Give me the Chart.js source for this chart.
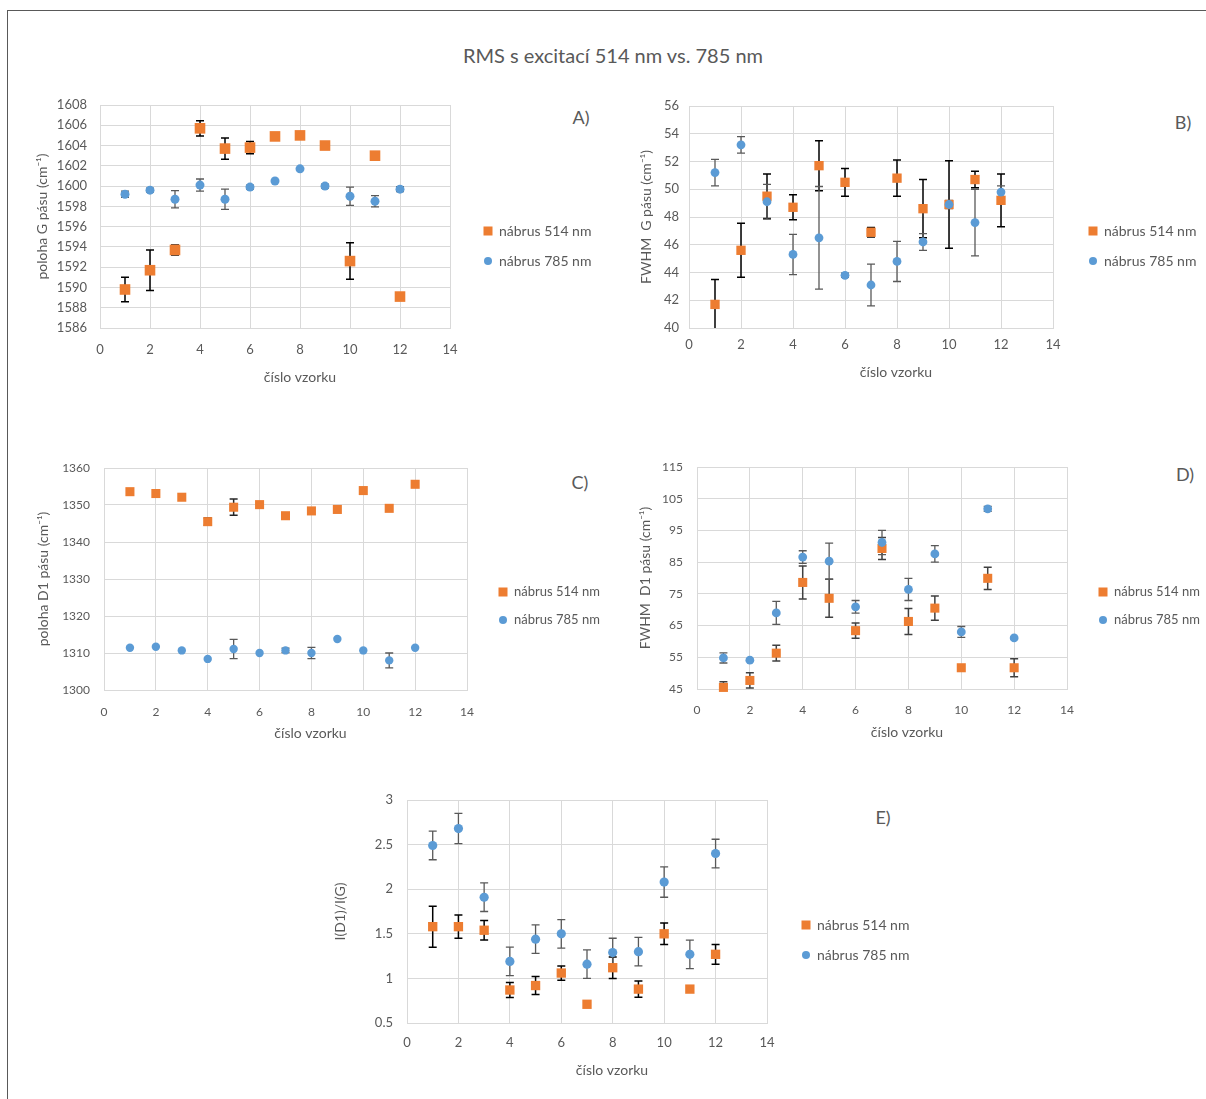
<!DOCTYPE html>
<html>
<head>
<meta charset="utf-8">
<script src="https://cdn.jsdelivr.net/npm/chart.js@4.4.0/dist/chart.umd.min.js"></script>
<style>
  body { margin: 0; background: #fff; font-family: Lato, sans-serif; }
  #page { position: relative; width: 1206px; height: 1099px; overflow: hidden; }
  #frame { position: absolute; left: 7px; top: 10px; width: 1400px; height: 1400px;
           border-left: 1px solid #595959; border-top: 1px solid #595959; }
  .chartTitle { position: absolute; left: 613px; top: 43px; transform: translateX(-50%);
                font-size: 20px; color: #595959; white-space: nowrap; }
  .tag { position: absolute; font-size: 18px; color: #595959; transform: translate(-50%, -50%); }
  canvas { position: absolute; }
</style>
</head>
<body>
<div id="page">
  <div id="frame"></div>
  <div class="chartTitle">RMS s excitací 514 nm vs. 785 nm</div>
  <div class="tag" style="left:581px; top:117px">A)</div>
  <div class="tag" style="left:1183px; top:122px">B)</div>
  <div class="tag" style="left:580px; top:482px">C)</div>
  <div class="tag" style="left:1185px; top:474px">D)</div>
  <div class="tag" style="left:883px; top:817px">E)</div>
  <canvas id="chartA" width="590" height="300" style="left:30px; top:95px"></canvas>
  <canvas id="chartB" width="576" height="300" style="left:630px; top:95px"></canvas>
  <canvas id="chartC" width="590" height="300" style="left:30px; top:455px"></canvas>
  <canvas id="chartD" width="576" height="300" style="left:630px; top:455px"></canvas>
  <canvas id="chartE" width="600" height="300" style="left:330px; top:790px"></canvas>
</div>
<script>
// sample numbers (x axis)
const samples = [1, 2, 3, 4, 5, 6, 7, 8, 9, 10, 11, 12];
const seriesLabels = ['nábrus 514 nm', 'nábrus 785 nm'];

// A) poloha G pásu
const gPos514 = [1589.8, 1591.7, 1593.7, 1605.7, 1603.7, 1603.8, 1604.9, 1605.0, 1604.0, 1592.6, 1603.0, 1589.1];
const gPos514Err = [1.2, 2.0, 0.5, 0.75, 1.05, 0.6, 0, 0, 0, 1.8, 0, 0];
const gPos785 = [1599.2, 1599.6, 1598.7, 1600.1, 1598.7, 1599.9, 1600.5, 1601.7, 1600.0, 1599.0, 1598.5, 1599.7];
const gPos785Err = [0.3, 0.2, 0.85, 0.6, 1.0, 0.2, 0, 0, 0.2, 0.9, 0.55, 0.25];

// B) FWHM G pásu
const gFwhm514 = [41.7, 45.6, 49.5, 48.7, 51.7, 50.5, 46.9, 50.8, 48.6, 48.9, 50.7, 49.2];
const gFwhm514Err = [1.8, 1.95, 1.6, 0.9, 1.8, 1.0, 0.35, 1.3, 2.1, 3.15, 0.6, 1.9];
const gFwhm785 = [51.2, 53.2, 49.1, 45.3, 46.5, 43.8, 43.1, 44.8, 46.2, 48.9, 47.6, 49.8];
const gFwhm785Err = [0.95, 0.6, 1.25, 1.45, 3.7, 0.15, 1.5, 1.45, 0.6, 0.3, 2.4, 0.45];

// C) poloha D1 pásu
const d1Pos514 = [1353.6, 1353.1, 1352.1, 1345.5, 1349.4, 1350.1, 1347.1, 1348.4, 1348.8, 1353.9, 1349.1, 1355.6];
const d1Pos514Err = [0, 0, 0, 1.0, 2.2, 0, 0, 0, 0, 0, 0, 0];
const d1Pos785 = [1311.4, 1311.7, 1310.7, 1308.4, 1311.1, 1310.0, 1310.7, 1310.0, 1313.8, 1310.7, 1308.0, 1311.4];
const d1Pos785Err = [0, 0, 0, 0, 2.6, 0, 0.6, 1.5, 0, 0, 2.0, 0];

// D) FWHM D1 pásu
const d1Fwhm514 = [45.5, 47.7, 56.3, 78.6, 73.6, 63.4, 89.3, 66.3, 70.5, 51.7, 79.9, 51.7];
const d1Fwhm514Err = [1.8, 2.4, 2.5, 5.2, 6.0, 2.4, 3.5, 4.1, 3.8, 0, 3.5, 2.8];
const d1Fwhm785 = [54.8, 54.1, 69.0, 86.6, 85.3, 70.9, 91.2, 76.4, 87.6, 63.0, 101.8, 61.1];
const d1Fwhm785Err = [1.6, 0, 3.6, 2.0, 5.7, 2.0, 3.8, 3.5, 2.6, 1.7, 0.8, 0];

// E) I(D1)/I(G)
const ratio514 = [1.58, 1.58, 1.54, 0.87, 0.92, 1.06, 0.71, 1.12, 0.88, 1.50, 0.88, 1.27];
const ratio514Err = [0.23, 0.13, 0.11, 0.085, 0.1, 0.08, 0, 0.12, 0.09, 0.12, 0, 0.11];
const ratio785 = [2.49, 2.68, 1.91, 1.19, 1.44, 1.50, 1.16, 1.29, 1.30, 2.08, 1.27, 2.40];
const ratio785Err = [0.16, 0.17, 0.16, 0.16, 0.16, 0.16, 0.16, 0.16, 0.16, 0.17, 0.16, 0.16];

const ORANGE = '#ED7D31';
const BLUE = '#5B9BD5';
const TEXT = '#595959';
const GRID = '#D9D9D9';

Chart.defaults.font.family = 'Lato';
Chart.defaults.color = TEXT;

// error bars (under the markers), own legend and x title
const panelExtras = {
  id: 'panelExtras',
  beforeDatasetsDraw(chart) {
    const { ctx, chartArea, scales } = chart;
    ctx.save();
    ctx.beginPath();
    ctx.rect(chartArea.left, chartArea.top, chartArea.width, chartArea.height);
    ctx.clip();
    chart.data.datasets.forEach(ds => {
      ctx.strokeStyle = ds.errorColor;
      ctx.lineWidth = ds.errorWidth;
      ds.data.forEach((p, i) => {
        const e = ds.errors[i];
        if (!e) return;
        const x = scales.x.getPixelForValue(p.x);
        const y1 = scales.y.getPixelForValue(p.y + e);
        const y2 = scales.y.getPixelForValue(p.y - e);
        ctx.beginPath();
        ctx.moveTo(x, y1); ctx.lineTo(x, y2);
        ctx.moveTo(x - 4, y1); ctx.lineTo(x + 4, y1);
        ctx.moveTo(x - 4, y2); ctx.lineTo(x + 4, y2);
        ctx.stroke();
      });
    });
    ctx.restore();
  },
  afterDraw(chart, args, opts) {
    const { ctx, chartArea } = chart;
    ctx.save();
    ctx.fillStyle = TEXT;
    ctx.textBaseline = 'middle';
    ctx.font = opts.legendFont + 'px Lato';
    const mx = chartArea.right + opts.legendDx;
    chart.data.datasets.forEach((ds, i) => {
      const y = opts.legendY[i];
      ctx.fillStyle = ds.backgroundColor;
      if (ds.pointStyle === 'rect') {
        ctx.fillRect(mx - 4.5, y - 4.5, 9, 9);
      } else {
        ctx.beginPath();
        ctx.arc(mx, y, 4, 0, Math.PI * 2);
        ctx.fill();
      }
      ctx.fillStyle = TEXT;
      ctx.textAlign = 'left';
      ctx.fillText(ds.label, mx + 11, y);
    });
    ctx.font = '14px Lato';
    ctx.textAlign = 'center';
    ctx.fillText(opts.xTitle, (chartArea.left + chartArea.right) / 2 + 25, opts.xTitleY);
    ctx.restore();
  }
};

function toPoints(vals) {
  return samples.map((x, i) => ({ x: x, y: vals[i] }));
}

function buildPanel(id, o) {
  return new Chart(document.getElementById(id), {
    type: 'scatter',
    data: {
      datasets: [
        {
          label: seriesLabels[0],
          data: toPoints(o.y514),
          errors: o.e514,
          errorColor: o.errColors[0],
          errorWidth: 1.5,
          pointStyle: 'rect',
          pointRadius: o.rectR,
          backgroundColor: ORANGE,
          borderColor: ORANGE,
          borderWidth: 0,
          clip: false,
          order: 1
        },
        {
          label: seriesLabels[1],
          data: toPoints(o.y785),
          errors: o.e785,
          errorColor: o.errColors[1],
          errorWidth: 1.3,
          pointStyle: 'circle',
          pointRadius: o.circleR,
          backgroundColor: BLUE,
          borderColor: BLUE,
          borderWidth: 0,
          clip: false,
          order: 0
        }
      ]
    },
    options: {
      responsive: false,
      animation: false,
      events: [],
      layout: { padding: { top: o.padTop, right: o.padRight, left: 0, bottom: 0 } },
      plugins: {
        legend: { display: false },
        tooltip: { enabled: false },
        panelExtras: {
          legendDx: o.legendDx,
          legendY: o.legendY,
          legendFont: o.legendFont,
          xTitle: 'číslo vzorku',
          xTitleY: o.xTitleY
        }
      },
      scales: {
        x: {
          type: 'linear',
          min: 0, max: 14,
          ticks: { stepSize: 2, padding: o.xTickPad, font: { size: o.tickFont }, callback: v => String(v) },
          grid: { color: GRID, drawTicks: false },
          border: { color: GRID },
          afterFit: s => { s.height = o.xHeight; }
        },
        y: {
          min: o.yMin, max: o.yMax,
          ticks: { stepSize: o.yStep, padding: o.yTickPad, font: { size: o.tickFont }, callback: v => String(v) },
          grid: { color: GRID, drawTicks: false },
          border: { color: GRID },
          title: { display: true, text: o.yTitle, font: { size: o.yTitleFont }, padding: { top: o.yTitlePad, bottom: 0 } },
          afterFit: s => { s.width = o.yWidth; s.paddingTop = 0; s.paddingBottom = 0; }
        }
      }
    },
    plugins: [panelExtras]
  });
}

buildPanel('chartA', {
  y514: gPos514, e514: gPos514Err, y785: gPos785, e785: gPos785Err,
  yMin: 1586, yMax: 1608, yStep: 2, yTitle: 'poloha G pásu (cm⁻¹)', yTitleFont: 14, yTitlePad: 4,
  yWidth: 70, padRight: 170, padTop: 10, xHeight: 67, tickFont: 13, xTickPad: 14, yTickPad: 13,
  xTitleY: 282, legendDx: 38, legendY: [136, 166], legendFont: 14,
  rectR: 7.5, circleR: 4.5, errColors: ['#000000', '#595959']
});

buildPanel('chartB', {
  y514: gFwhm514, e514: gFwhm514Err, y785: gFwhm785, e785: gFwhm785Err,
  yMin: 40, yMax: 56, yStep: 2, yTitle: 'FWHM  G pásu (cm⁻¹)', yTitleFont: 14, yTitlePad: 8,
  yWidth: 59, padRight: 153, padTop: 11, xHeight: 67, tickFont: 13, xTickPad: 9, yTickPad: 10,
  xTitleY: 277, legendDx: 40, legendY: [136, 166], legendFont: 14,
  rectR: 6.6, circleR: 4.4, errColors: ['#000000', '#595959']
});

buildPanel('chartC', {
  y514: d1Pos514, e514: d1Pos514Err, y785: d1Pos785, e785: d1Pos785Err,
  yMin: 1300, yMax: 1360, yStep: 10, yTitle: 'poloha D1 pásu (cm⁻¹)', yTitleFont: 14, yTitlePad: 5,
  yWidth: 74, padRight: 153, padTop: 13, xHeight: 65, tickFont: 12, xTickPad: 15, yTickPad: 14,
  xTitleY: 278, legendDx: 36, legendY: [137, 165], legendFont: 13,
  rectR: 6.4, circleR: 4.2, errColors: ['#262626', '#595959']
});

buildPanel('chartD', {
  y514: d1Fwhm514, e514: d1Fwhm514Err, y785: d1Fwhm785, e785: d1Fwhm785Err,
  yMin: 45, yMax: 115, yStep: 10, yTitle: 'FWHM  D1 pásu (cm⁻¹)', yTitleFont: 14, yTitlePad: 7,
  yWidth: 67, padRight: 139, padTop: 12, xHeight: 66, tickFont: 12, xTickPad: 14, yTickPad: 14,
  xTitleY: 277, legendDx: 36, legendY: [137, 165], legendFont: 13,
  rectR: 6.4, circleR: 4.4, errColors: ['#404040', '#595959']
});

buildPanel('chartE', {
  y514: ratio514, e514: ratio514Err, y785: ratio785, e785: ratio785Err,
  yMin: 0.5, yMax: 3, yStep: 0.5, yTitle: 'I(D1)/I(G)', yTitleFont: 14, yTitlePad: 2,
  yWidth: 77, padRight: 163, padTop: 10, xHeight: 67, tickFont: 13, xTickPad: 12, yTickPad: 14,
  xTitleY: 280, legendDx: 39, legendY: [135, 165], legendFont: 14,
  rectR: 6.6, circleR: 4.6, errColors: ['#000000', '#595959']
});
</script>
</body>
</html>
